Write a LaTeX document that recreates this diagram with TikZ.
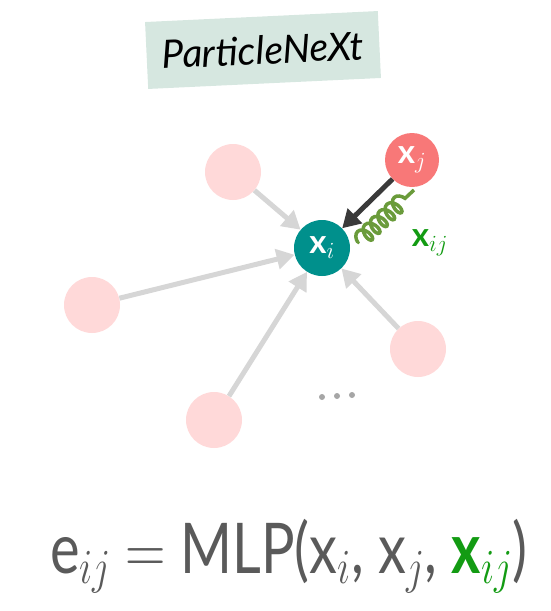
\RequirePackage{fix-cm}
\documentclass[tikz,border=0pt]{standalone}
\usepackage{fontspec}
\setmainfont{Lato}
\usetikzlibrary{arrows.meta,decorations.pathmorphing}

\definecolor{nodepink}{HTML}{FFD9D9}
\definecolor{nodeteal}{HTML}{00908C}
\definecolor{nodered}{HTML}{F87878}
\definecolor{labelbg}{HTML}{D6E7E0}
\definecolor{edgegray}{HTML}{D6D6D6}
\definecolor{edgedark}{HTML}{3A3A3A}
\definecolor{coilgreen}{HTML}{6A9B3B}
\definecolor{featgreen}{HTML}{139B13}
\definecolor{textgray}{HTML}{5A5A5A}

\tikzset{
  particle/.style={circle, minimum size=56pt, inner sep=0pt},
  neighbour/.style={particle, fill=nodepink},
  msg/.style={draw=edgegray, line width=5pt, -{Triangle[length=18pt,width=20pt]}},
  feat/.style={font=\fontsize{33}{33}\selectfont\bfseries},
}

\begin{document}
\begin{tikzpicture}[x=1pt,y=-1pt]
      \useasboundingbox (0,0) rectangle (551,611);

      % Model name
      \node[fill=labelbg, rotate=2.7, minimum width=233pt, minimum height=67pt,
            font=\itshape\fontsize{39}{40}\selectfont] (title) at (263,50) {ParticleNeXt};

      % Neighbour particles
      \node[neighbour] (nbtop) at (233,172) {};
      \node[neighbour] (nbleft) at (92,305) {};
      \node[neighbour] (nbbottom) at (214,420) {};
      \node[neighbour] (nbright) at (418,349) {};

      % Centre particle and selected neighbour
      \node[particle, feat, fill=nodeteal, text=white] (xi) at (322,248) {x$_i$};
      \node[particle, feat, fill=nodered, text=white, minimum size=54pt] (xj) at (412,160) {x$_j$};

      % Messages
      \draw[msg] (nbtop) -- (xi);
      \draw[msg] (nbleft) -- (xi);
      \draw[msg] (nbbottom) -- (xi);
      \draw[msg] (nbright) -- (xi);
      \draw[draw=edgedark, line width=5pt, -{Triangle[length=18pt,width=20pt]}] (xj) -- (xi);

      % Pairwise feature
      \coordinate (coilstart) at (357,243);
      \coordinate (coilend) at (414,190);
      \draw[coilgreen, line width=3.5pt,
            decorate, decoration={coil, aspect=0.6, segment length=10pt, amplitude=8pt,
                                  pre length=1pt, post length=8pt}] (coilstart) -- (coilend);
      \node[feat, text=featgreen] (xij) at (430,243) {x$_{ij}$};

      % More neighbours
      \fill[gray!70] (322,397) circle (3) (337,396) circle (3) (352,395) circle (3);

      % Edge function
      \node[text=textgray, yscale=1.25, font=\fontsize{56}{60}\selectfont] (eq) at (289,556)
            {e$_{ij}$ $=$ MLP(x$_i$, x$_j$, \textcolor{featgreen}{\bfseries x$_{ij}$})};

  \end{tikzpicture}
\end{document}
